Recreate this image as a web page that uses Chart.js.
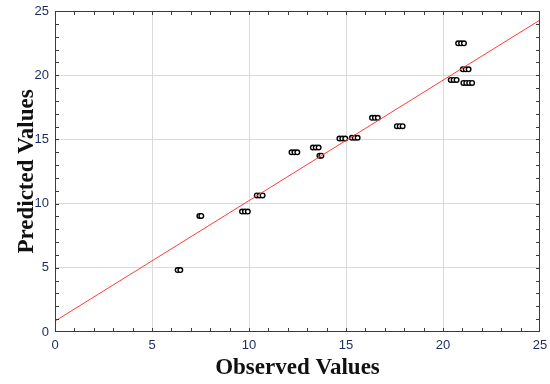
<!DOCTYPE html>
<html>
<head>
<meta charset="UTF-8">
<title>Observed vs Predicted</title>
<script src="https://cdn.jsdelivr.net/npm/chart.js"></script>
<style>
  html, body { margin: 0; padding: 0; background: #fff; }
  #wrap { width: 550px; height: 384px; }
</style>
</head>
<body>
<div id="wrap"><canvas id="myChart"></canvas></div>
<script>
  // observed / predicted pairs (each cluster = a few near-identical runs)
  const observed = [
    6.32, 6.46,
    7.44, 7.54,
    9.64, 9.79, 9.94,
    10.4, 10.55, 10.7,
    12.19, 12.34, 12.49,
    13.29, 13.44, 13.59,
    13.63, 13.73,
    14.66, 14.81, 14.96,
    15.3, 15.45, 15.6,
    16.34, 16.49, 16.64,
    17.62, 17.77, 17.92,
    20.78, 20.93, 21.08,
    21.02, 21.17, 21.32,
    20.4, 20.55, 20.7,
    21.05, 21.2, 21.35, 21.5
  ];
  const predicted = [
    4.82, 4.82,
    9.04, 9.04,
    9.38, 9.38, 9.38,
    10.64, 10.64, 10.64,
    13.99, 13.99, 13.99,
    14.37, 14.37, 14.37,
    13.73, 13.73,
    15.07, 15.07, 15.07,
    15.13, 15.13, 15.13,
    16.68, 16.68, 16.68,
    16.03, 16.03, 16.03,
    22.48, 22.48, 22.48,
    20.46, 20.46, 20.46,
    19.63, 19.63, 19.63,
    19.4, 19.4, 19.4, 19.4
  ];
  const fitX = [0, 25];
  const fitY = [0.85, 24.3];
  const axisMin = 0, axisMax = 25, axisStep = 5;

  const tickColor = '#1c2a5e';

  // box around the plot + small inward ticks at every unit
  const frame = {
    id: 'frame',
    afterDatasetsDraw(chart) {
      const { ctx, chartArea: a, scales: { x, y } } = chart;
      ctx.save();
      ctx.strokeStyle = '#3a3a3a';
      ctx.lineWidth = 1;
      ctx.strokeRect(a.left + 0.5, a.top + 0.5, a.right - a.left - 1, a.bottom - a.top - 1);
      ctx.beginPath();
      for (let v = axisMin + 1; v < axisMax; v++) {
        const px = Math.round(x.getPixelForValue(v)) + 0.5;
        ctx.moveTo(px, a.bottom); ctx.lineTo(px, a.bottom - 4);
        ctx.moveTo(px, a.top); ctx.lineTo(px, a.top + 4);
        const py = Math.round(y.getPixelForValue(v)) + 0.5;
        ctx.moveTo(a.left, py); ctx.lineTo(a.left + 4, py);
        ctx.moveTo(a.right, py); ctx.lineTo(a.right - 4, py);
      }
      ctx.stroke();
      ctx.restore();
    }
  };

  const gridColor = c => (c.tick.value === axisMin || c.tick.value === axisMax) ? 'rgba(0,0,0,0)' : '#dadada';

  new Chart(document.getElementById('myChart'), {
    type: 'scatter',
    data: {
      datasets: [
        {
          label: 'fit',
          type: 'line',
          data: fitX.map((v, i) => ({ x: v, y: fitY[i] })),
          borderColor: '#ff3b3b',
          borderWidth: 1,
          pointRadius: 0,
          fill: false
        },
        {
          label: 'runs',
          data: observed.map((v, i) => ({ x: v, y: predicted[i] })),
          pointRadius: 2.3,
          pointBorderWidth: 1.4,
          borderColor: '#000',
          backgroundColor: '#fff'
        }
      ]
    },
    options: {
      responsive: true,
      maintainAspectRatio: false,
      animation: false,
      layout: { padding: { top: 11, right: 10, left: 0, bottom: 0 } },
      plugins: { legend: { display: false }, tooltip: { enabled: false } },
      scales: {
        x: {
          type: 'linear',
          min: axisMin, max: axisMax,
          afterFit: s => { s.height = 52; s.paddingLeft = 0; s.paddingRight = 0; },
          ticks: { stepSize: axisStep, color: tickColor, padding: 6, font: { family: 'Liberation Sans', size: 13 } },
          grid: { color: gridColor, drawTicks: false },
          border: { display: false },
          title: {
            display: true,
            text: 'Observed Values',
            color: '#111',
            font: { family: 'Liberation Serif', size: 23, weight: 'bold' },
            padding: { top: 0, bottom: 2 }
          }
        },
        y: {
          type: 'linear',
          min: axisMin, max: axisMax,
          afterFit: s => { s.width = 55; s.paddingTop = 0; s.paddingBottom = 0; },
          ticks: { stepSize: axisStep, color: tickColor, padding: 6, font: { family: 'Liberation Sans', size: 13 } },
          grid: { color: gridColor, drawTicks: false },
          border: { display: false },
          title: {
            display: true,
            text: 'Predicted Values',
            color: '#111',
            font: { family: 'Liberation Serif', size: 23, weight: 'bold' },
            padding: { top: 13, bottom: 0 }
          }
        }
      }
    },
    plugins: [frame]
  });
</script>
</body>
</html>
